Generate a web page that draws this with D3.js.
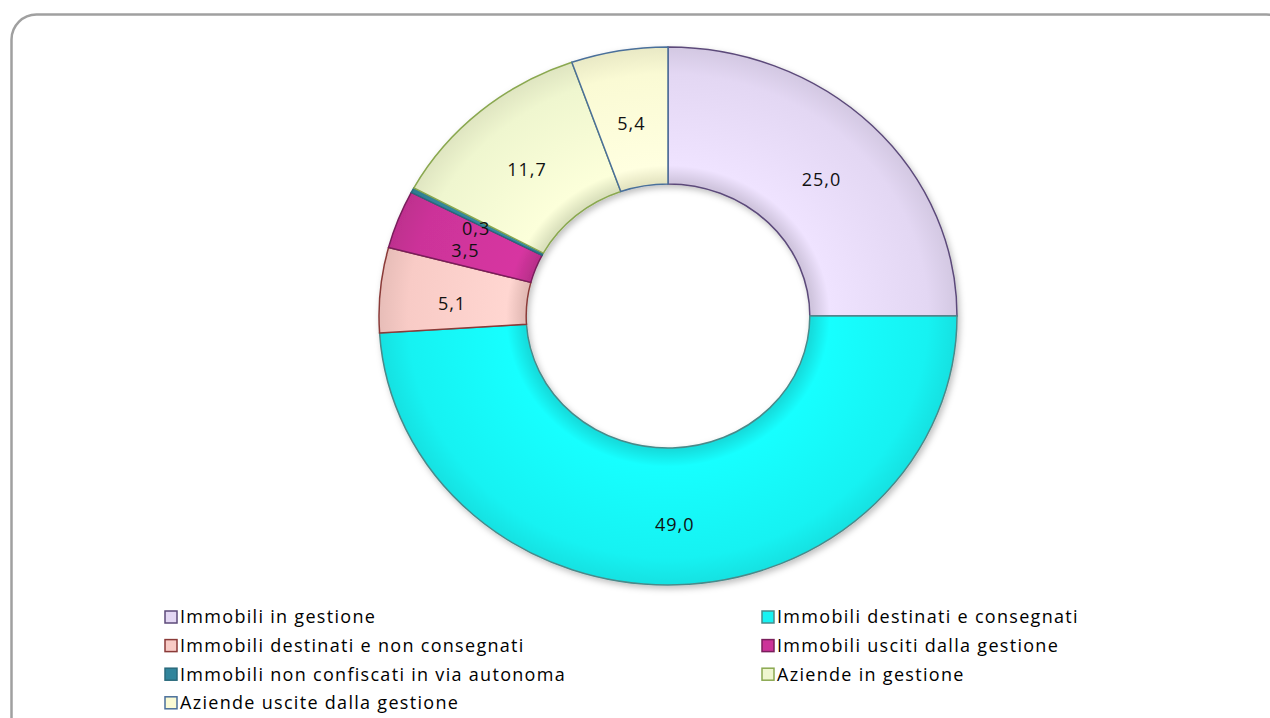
<!DOCTYPE html>
<html>
<head>
<meta charset="utf-8">
<script src="https://cdn.jsdelivr.net/npm/d3@7"></script>
<style>
  body { margin: 0; background: #fff; }
  svg text { font-family: "Open Sans", Lato, sans-serif; }
</style>
</head>
<body>
<svg width="1270" height="718"></svg>
<script>
// categories and values (percent)
var categories = [
  "Immobili in gestione",
  "Immobili destinati e consegnati",
  "Immobili destinati e non consegnati",
  "Immobili usciti dalla gestione",
  "Immobili non confiscati in via autonoma",
  "Aziende in gestione",
  "Aziende uscite dalla gestione"
];
var values = [25.0, 49.0, 5.1, 3.5, 0.3, 11.7, 5.4];
var labels = ["25,0", "49,0", "5,1", "3,5", "0,3", "11,7", "5,4"];
var fills = ["#e3d7f3", "#18f2f2", "#f8cbc6", "#cc3399", "#31859c", "#eff6cf", "#fafad4"];
var strokes = ["#5c4a7a", "#4a8a8a", "#8a3a38", "#7a1f5c", "#2a6a7c", "#8aa850", "#4a6f9a"];

var svg = d3.select("svg");

// chart frame
svg.append("rect")
  .attr("x", 11.5).attr("y", 14.5)
  .attr("width", 1280).attr("height", 740)
  .attr("rx", 25).attr("ry", 25)
  .attr("fill", "#fff")
  .attr("stroke", "#a0a0a0")
  .attr("stroke-width", 2.5);

var cx = 668, cy = 316, ry = 269, sx = 289 / 269;

var defs = svg.append("defs");
fills.forEach(function(c, i) {
  var g = defs.append("radialGradient")
    .attr("id", "grad" + i)
    .attr("gradientUnits", "userSpaceOnUse")
    .attr("cx", 0).attr("cy", 0).attr("r", ry);
  g.append("stop").attr("offset", "0.5").attr("stop-color", d3.color(c).darker(0.25));
  g.append("stop").attr("offset", "0.56").attr("stop-color", d3.color(c).brighter(0.15));
  g.append("stop").attr("offset", "0.9").attr("stop-color", c);
  g.append("stop").attr("offset", "1").attr("stop-color", d3.color(c).darker(0.2));
});
var f = defs.append("filter").attr("id", "shadow").attr("x", "-20%").attr("y", "-20%").attr("width", "140%").attr("height", "140%");
f.append("feDropShadow").attr("dx", 2).attr("dy", 3).attr("stdDeviation", 3).attr("flood-color", "#000").attr("flood-opacity", 0.25);

var pie = d3.pie().sort(null).value(function(d) { return d; });
var arcs = pie(values);
var arc = d3.arc().innerRadius(132).outerRadius(ry);
var labelArc = d3.arc().innerRadius(202).outerRadius(202);

var g = svg.append("g")
  .attr("transform", "translate(" + cx + "," + cy + ") scale(" + sx + ",1)");

g.append("g").attr("filter", "url(#shadow)")
  .selectAll("path")
  .data(arcs)
  .enter().append("path")
  .attr("d", arc)
  .attr("fill", function(d, i) { return "url(#grad" + i + ")"; })
  .attr("stroke", function(d, i) { return strokes[i]; })
  .attr("stroke-width", 1.5)
  .attr("vector-effect", "non-scaling-stroke");

svg.append("g").selectAll("text")
  .data(arcs)
  .enter().append("text")
  .attr("x", function(d) { return cx + labelArc.centroid(d)[0] * sx; })
  .attr("y", function(d) { return cy + 7 + labelArc.centroid(d)[1]; })
  .attr("dy", "0.35em")
  .attr("text-anchor", "middle")
  .attr("font-size", 18)
  .attr("letter-spacing", 1)
  .attr("fill", "#111")
  .text(function(d, i) { return labels[i]; });

// legend
var colX = [165, 762], rowY0 = 617, rowH = 28.6;
var leg = svg.append("g").selectAll("g")
  .data(categories)
  .enter().append("g")
  .attr("transform", function(d, i) {
    return "translate(" + colX[i % 2] + "," + (rowY0 + Math.floor(i / 2) * rowH) + ")";
  });
leg.append("rect")
  .attr("x", 0).attr("y", -6).attr("width", 12).attr("height", 12)
  .attr("fill", function(d, i) { return fills[i]; })
  .attr("stroke", function(d, i) { return strokes[i]; })
  .attr("stroke-width", 1.5);
leg.append("text")
  .attr("x", 15).attr("dy", "0.35em")
  .attr("font-size", 18)
  .attr("letter-spacing", 1.3)
  .attr("fill", "#000")
  .text(function(d) { return d; });
</script>
</body>
</html>
